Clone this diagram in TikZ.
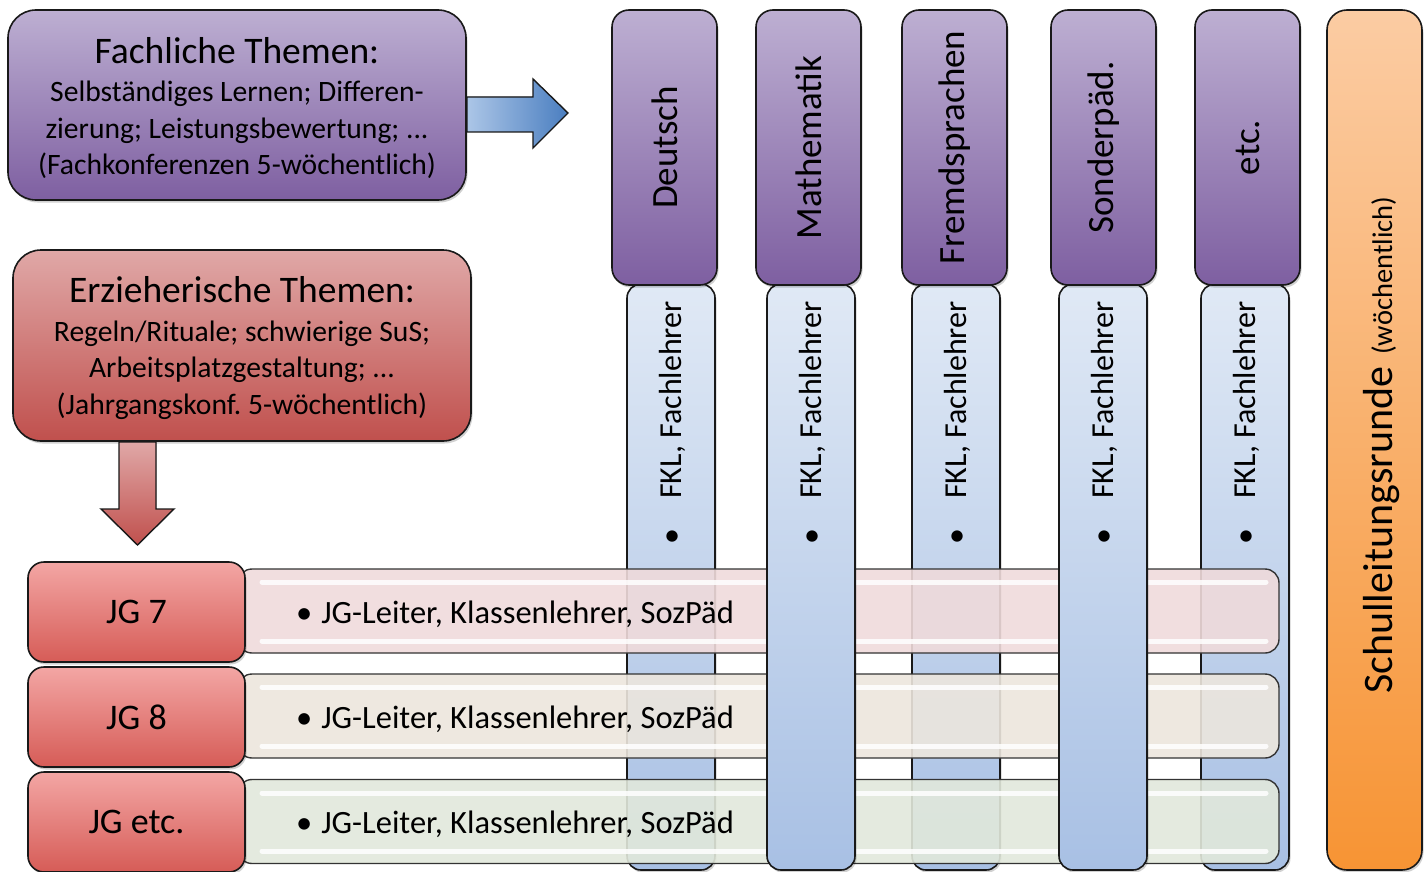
\documentclass[tikz,border=0pt]{standalone}
\usepackage{fontspec}
\setmainfont{Carlito}
\usetikzlibrary{shadows}
\frenchspacing
\definecolor{pTop}{RGB}{189,175,210}
\definecolor{pBot}{RGB}{126,95,161}
\definecolor{bTop}{RGB}{224,233,245}
\definecolor{bBot}{RGB}{168,192,228}
\definecolor{oTop}{RGB}{251,204,163}
\definecolor{oBot}{RGB}{247,148,52}
\definecolor{rTop}{RGB}{224,168,167}
\definecolor{rBot}{RGB}{192,80,77}
\definecolor{jTop}{RGB}{243,166,164}
\definecolor{jBot}{RGB}{214,92,87}
\definecolor{aLeft}{RGB}{172,198,231}
\definecolor{aRight}{RGB}{74,126,192}
\definecolor{rowA}{RGB}{239,218,219}
\definecolor{rowB}{RGB}{236,230,221}
\definecolor{rowC}{RGB}{225,232,219}
\begin{document}
\frenchspacing
\begin{tikzpicture}[x=1pt,y=-1pt,
  base/.style={draw=black!90, line width=1.6pt, inner sep=0pt, outer sep=0pt},
  shadowed/.style={drop shadow={shadow xshift=1.5pt, shadow yshift=-2.5pt, fill=black, opacity=0.18}},
  fachbox/.style={base, shadowed, rounded corners=28pt, top color=pTop, bottom color=pBot},
  erzbox/.style={base, shadowed, rounded corners=28pt, top color=rTop, bottom color=rBot},
  colhead/.style={base, shadowed, rounded corners=17pt, top color=pTop, bottom color=pBot, minimum width=105pt, minimum height=275pt},
  colbody/.style={base, shadowed, rounded corners=14pt, top color=bTop, bottom color=bBot, minimum width=88pt, minimum height=586pt},
  orangebox/.style={base, shadowed, rounded corners=20pt, top color=oTop, bottom color=oBot},
  jgbox/.style={base, shadowed, rounded corners=16pt, top color=jTop, bottom color=jBot, minimum width=217pt, minimum height=100pt},
  rowband/.style={draw=black!80, line width=1.4pt, inner sep=0pt, outer sep=0pt, rounded corners=14pt, fill opacity=0.9, minimum width=1041pt, minimum height=84pt},
  gloss/.style={white, line width=5pt, line cap=round, opacity=0.85},
  headtext/.style={rotate=90, font=\fontsize{37}{37}\selectfont, inner sep=0pt},
  fkltext/.style={rotate=90, anchor=west, font=\fontsize{32}{32}\selectfont, inner sep=0pt},
  jgtext/.style={font=\fontsize{36}{36}\selectfont, inner sep=0pt},
  rowtext/.style={anchor=west, font=\fontsize{32.5}{32.5}\selectfont, inner sep=0pt},
  arrowshape/.style={draw=black!90, line width=1.4pt, line join=miter}
]
\useasboundingbox (0,0) rectangle (1427,872);

% top-left boxes
\node[fachbox, minimum width=458pt, minimum height=190pt] (fach) at (237,105) {};
\node[align=center, font=\fontsize{29.6}{36.5}\selectfont] (fachtext) at (237,108)
  {{\fontsize{37.5}{37.5}\selectfont Fachliche Themen:}\\[2pt]
   Selbständiges Lernen; Differen-\\
   zierung; Leistungsbewertung; ...\\
   (Fachkonferenzen 5-wöchentlich)};

\node[erzbox, minimum width=458pt, minimum height=191pt] (erz) at (242,345.5) {};
\node[align=center, font=\fontsize{29.6}{36.5}\selectfont] (erztext) at (242,348)
  {{\fontsize{37.5}{37.5}\selectfont Erzieherische Themen:}\\[2pt]
   Regeln/Rituale; schwierige SuS;\\
   Arbeitsplatzgestaltung; ...\\
   (Jahrgangskonf. 5-wöchentlich)};

% block arrows
\filldraw[arrowshape, left color=aLeft, right color=aRight]
  (467,97) -- (533,97) -- (533,79) -- (568,113) -- (533,148) -- (533,132) -- (467,132) -- cycle;
\filldraw[arrowshape, top color=rTop, bottom color=rBot]
  (119,442) -- (156,442) -- (156,509) -- (174,509) -- (137.5,545) -- (101,509) -- (119,509) -- cycle;

% columns behind rows
\node[colbody] (bD) at (671,577) {};
\node[colbody] (bF) at (956,577) {};
\node[colbody] (bE) at (1245,577) {};

% rows
\node[rowband, fill=rowA] (r1) at (758.5,611) {};
\node[rowband, fill=rowB] (r2) at (758.5,716) {};
\node[rowband, fill=rowC] (r3) at (758.5,821.5) {};
\draw[gloss] (262,582) -- (1266,582);
\draw[gloss] (262,641) -- (1266,641);
\draw[gloss] (262,687) -- (1266,687);
\draw[gloss] (262,746) -- (1266,746);
\draw[gloss] (262,793) -- (1266,793);
\draw[gloss] (262,851) -- (1266,851);
\node[rowtext] (t1) at (296,614) {\textbullet\hspace{9pt}JG-Leiter, Klassenlehrer, SozPäd};
\node[rowtext] (t2) at (296,719) {\textbullet\hspace{9pt}JG-Leiter, Klassenlehrer, SozPäd};
\node[rowtext] (t3) at (296,824) {\textbullet\hspace{9pt}JG-Leiter, Klassenlehrer, SozPäd};

% columns in front of rows
\node[colbody] (bM) at (811,577) {};
\node[colbody] (bS) at (1103,577) {};

% column headers
\node[colhead] (hD) at (664.5,147.5) {};
\node[colhead] (hM) at (808.5,147.5) {};
\node[colhead] (hF) at (954.5,147.5) {};
\node[colhead] (hS) at (1103.5,147.5) {};
\node[colhead] (hE) at (1247.5,147.5) {};
\node[headtext] (lD) at (hD) {Deutsch};
\node[headtext] (lM) at (hM) {Mathematik};
\node[headtext] (lF) at (hF) {Fremdsprachen};
\node[headtext] (lS) at (hS) {Sonderpäd.};
\node[headtext] (lE) at (hE) {etc.};

% column body texts
\node[fkltext] (fD) at (672,545) {\textbullet\hspace{30pt}FKL, Fachlehrer};
\node[fkltext] (fM) at (812,545) {\textbullet\hspace{30pt}FKL, Fachlehrer};
\node[fkltext] (fF) at (957,545) {\textbullet\hspace{30pt}FKL, Fachlehrer};
\node[fkltext] (fS) at (1104,545) {\textbullet\hspace{30pt}FKL, Fachlehrer};
\node[fkltext] (fE) at (1246,545) {\textbullet\hspace{30pt}FKL, Fachlehrer};

% JG boxes
\node[jgbox] (j7) at (136.5,612) {};
\node[jgbox] (j8) at (136.5,717) {};
\node[jgbox] (je) at (136.5,822) {};
\node[jgtext] (lj7) at (j7) {JG 7};
\node[jgtext] (lj8) at (j8) {JG 8};
\node[jgtext] (lje) at (je) {JG etc.};

% Schulleitungsrunde
\node[orangebox, minimum width=95pt, minimum height=860pt] (sl) at (1374.5,440) {};
\node[rotate=90, anchor=base west, inner sep=0pt] (slt) at (1392,694)
  {{\fontsize{42}{42}\selectfont Schulleitungsrunde}\hspace{12pt}{\fontsize{28.5}{28.5}\selectfont (wöchentlich)}};
\end{tikzpicture}
\end{document}
